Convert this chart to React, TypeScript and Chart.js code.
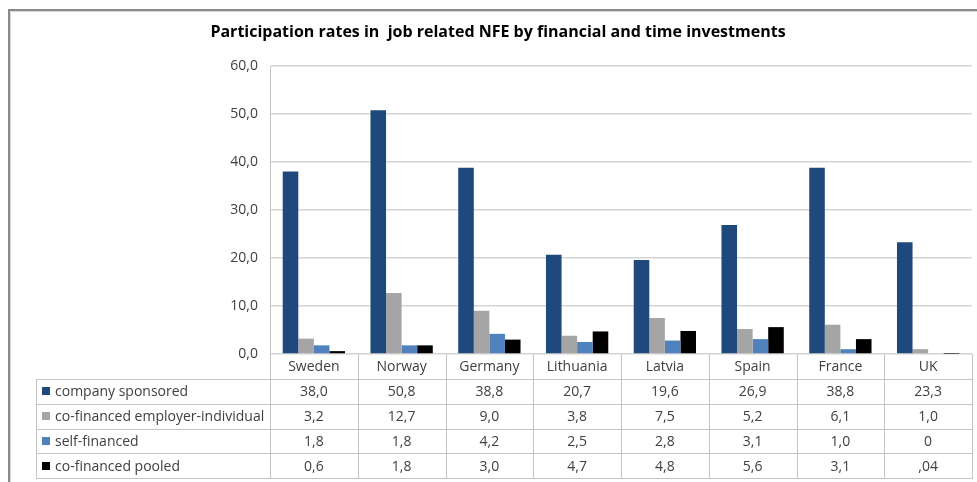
import React, { useEffect, useRef } from "react";
import { Chart, registerables } from "chart.js";

Chart.register(...registerables);

const chartTitle = "Participation rates in  job related NFE by financial and time investments";
const categories = ["Sweden", "Norway", "Germany", "Lithuania", "Latvia", "Spain", "France", "UK"];
const seriesNames = [
  "company sponsored",
  "co-financed employer-individual",
  "self-financed",
  "co-financed pooled",
];
const companySponsored = [38.0, 50.8, 38.8, 20.7, 19.6, 26.9, 38.8, 23.3];
const coFinancedEmployerIndividual = [3.2, 12.7, 9.0, 3.8, 7.5, 5.2, 6.1, 1.0];
const selfFinanced = [1.8, 1.8, 4.2, 2.5, 2.8, 3.1, 1.0, 0];
const coFinancedPooled = [0.6, 1.8, 3.0, 4.7, 4.8, 5.6, 3.1, 0.04];

const companySponsoredText = ["38,0", "50,8", "38,8", "20,7", "19,6", "26,9", "38,8", "23,3"];
const coFinancedEmployerIndividualText = ["3,2", "12,7", "9,0", "3,8", "7,5", "5,2", "6,1", "1,0"];
const selfFinancedText = ["1,8", "1,8", "4,2", "2,5", "2,8", "3,1", "1,0", "0"];
const coFinancedPooledText = ["0,6", "1,8", "3,0", "4,7", "4,8", "5,6", "3,1", ",04"];

const seriesColors = ["#1F497D", "#A5A5A5", "#4F81BD", "#000000"];

const FONT = "'Open Sans', Lato, sans-serif";
const TEXT = "#404040";
const LINE = "#c4c4c4";

const tablePlugin = {
  id: "dataTable",
  beforeDraw(chart: any) {
    const ctx = chart.ctx;
    ctx.save();
    ctx.fillStyle = "#ffffff";
    ctx.fillRect(0, 0, chart.width, chart.height);
    ctx.fillStyle = "#8a8a8a";
    ctx.fillRect(8, 9, chart.width - 8, 2);
    ctx.fillRect(8, 9, 2, chart.height - 9);
    ctx.fillStyle = "#d8d8d8";
    ctx.fillRect(10, 11, chart.width - 10, 1);
    ctx.fillRect(10, 11, 1, chart.height - 11);
    ctx.restore();
  },
  afterDraw(chart: any) {
    const ctx = chart.ctx;
    const area = chart.chartArea;
    const x = chart.scales.x;
    const n = categories.length;
    ctx.save();

    // title
    ctx.fillStyle = "#000000";
    ctx.font = `bold 16px ${FONT}`;
    ctx.textAlign = "center";
    ctx.textBaseline = "middle";
    ctx.fillText(chartTitle, 498, 32);

    const headerTop = area.bottom;
    const rowTop = 379;
    const rowH = 24.75;
    const tableLeft = 36;
    const texts = [
      companySponsoredText,
      coFinancedEmployerIndividualText,
      selfFinancedText,
      coFinancedPooledText,
    ];
    const tableBottom = rowTop + rowH * texts.length;

    ctx.strokeStyle = LINE;
    ctx.lineWidth = 1;
    ctx.beginPath();
    for (let i = 0; i <= n; i++) {
      const px = Math.round(x.getPixelForValue(i - 0.5)) + 0.5;
      ctx.moveTo(px, headerTop);
      ctx.lineTo(px, tableBottom);
    }
    ctx.moveTo(tableLeft + 0.5, rowTop);
    ctx.lineTo(tableLeft + 0.5, tableBottom);
    for (let r = 0; r <= texts.length; r++) {
      const py = Math.round(rowTop + r * rowH) + 0.5;
      ctx.moveTo(tableLeft, py);
      ctx.lineTo(Math.round(x.getPixelForValue(n - 0.5)) + 1, py);
    }
    ctx.stroke();

    ctx.font = `14px ${FONT}`;
    ctx.fillStyle = TEXT;
    ctx.textAlign = "center";
    ctx.textBaseline = "middle";
    for (let i = 0; i < n; i++) {
      const cx = x.getPixelForValue(i);
      ctx.fillText(categories[i], cx, (headerTop + rowTop) / 2 + 1);
      for (let r = 0; r < texts.length; r++) {
        ctx.fillText(texts[r][i], cx, rowTop + r * rowH + rowH / 2 + 1);
      }
    }
    ctx.textAlign = "left";
    for (let r = 0; r < seriesNames.length; r++) {
      const cy = rowTop + r * rowH + rowH / 2;
      ctx.fillStyle = seriesColors[r];
      ctx.fillRect(42, Math.round(cy) - 4, 8, 8);
      ctx.fillStyle = TEXT;
      ctx.fillText(seriesNames[r], 55, cy + 1);
    }
    ctx.restore();
  },
};

export default function App() {
  const ref = useRef<HTMLCanvasElement>(null);
  useEffect(() => {
    const values = [companySponsored, coFinancedEmployerIndividual, selfFinanced, coFinancedPooled];
    const chart = new Chart(ref.current as HTMLCanvasElement, {
      type: "bar",
      data: {
        labels: categories,
        datasets: seriesNames.map((name, i) => ({
          label: name,
          data: values[i],
          backgroundColor: seriesColors[i],
          borderWidth: 0,
          categoryPercentage: 0.71,
          barPercentage: 1,
        })),
      },
      options: {
        responsive: false,
        animation: false,
        devicePixelRatio: 1,
        layout: { padding: { top: 66, right: 5, left: 0, bottom: 0 } },
        plugins: {
          legend: { display: false },
          tooltip: { enabled: false },
          title: { display: false },
        },
        scales: {
          x: {
            grid: { display: false },
            border: { display: false },
            ticks: { display: false },
            afterFit: (s: any) => {
              s.height = 128;
            },
          },
          y: {
            min: 0,
            max: 60,
            ticks: {
              stepSize: 10,
              padding: 12,
              color: TEXT,
              font: { family: FONT, size: 14 },
              callback: (v: any) => Number(v).toFixed(1).replace(".", ","),
            },
            grid: { color: "#d4d4d4", drawTicks: false, lineWidth: 1.5 },
            border: { display: true, color: LINE, width: 1 },
            afterFit: (s: any) => {
              s.width = 270;
            },
          },
        },
      },
      plugins: [tablePlugin],
    });
    return () => chart.destroy();
  }, []);
  return (
    <div style={{ position: "absolute", left: 0, top: 0, width: 977, height: 482, background: "#fff" }}>
      <canvas ref={ref} width={977} height={482} style={{ display: "block" }} />
    </div>
  );
}
